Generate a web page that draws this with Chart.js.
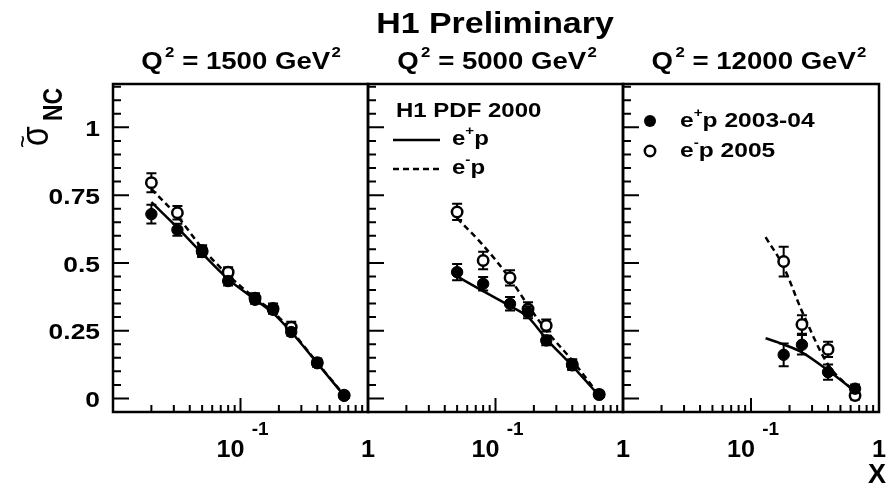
<!DOCTYPE html>
<html><head><meta charset="utf-8">
<script src="https://cdn.jsdelivr.net/npm/chart.js@4.4.1/dist/chart.umd.min.js"></script>
<style>
html,body{margin:0;padding:0;background:#fff;}
#wrap{position:relative;width:888px;height:490px;background:#fff;overflow:hidden;}
canvas{position:absolute;left:0;top:0;}
</style></head><body>
<div id="wrap">
<canvas id="c1" width="888" height="490"></canvas>
<canvas id="c2" width="888" height="490"></canvas>
<canvas id="c3" width="888" height="490"></canvas>
</div>
<script>
// ---------- data ----------
const X_TICK_VALUES = [0.1, 1];
const X_TICK_BASE = ['10', '1'];
const X_TICK_EXP = ['-1', ''];
const Y_TICK_VALUES = [0, 0.25, 0.5, 0.75, 1];
const Y_TICK_LABELS = ['0', '0.25', '0.5', '0.75', '1'];
const Q2_VALUES = ['1500', '5000', '12000'];

// Q2 = 1500
const x1500 = [0.02, 0.032, 0.05, 0.08, 0.13, 0.18, 0.25, 0.40, 0.65];
const epData1500 = [0.68, 0.622, 0.54, 0.433, 0.364, 0.327, 0.245, 0.13, 0.01];
const epErr1500 = [0.035, 0.022, 0.018, 0.016, 0.015, 0.015, 0.014, 0.012, 0.008];
const emData1500 = [0.796, 0.685, 0.545, 0.466, 0.37, 0.332, 0.263, 0.132, 0.012];
const emErr1500 = [0.035, 0.025, 0.02, 0.018, 0.018, 0.018, 0.02, 0.015, 0.01];
const xFit1500 = [0.02, 0.032, 0.05, 0.08, 0.13, 0.18, 0.25, 0.40, 0.65];
const epFit1500 = [0.724, 0.63, 0.535, 0.44, 0.365, 0.315, 0.245, 0.13, 0.01];
const emFit1500 = [0.773, 0.672, 0.555, 0.455, 0.37, 0.32, 0.25, 0.132, 0.012];

// Q2 = 5000
const x5000 = [0.05, 0.08, 0.13, 0.18, 0.25, 0.40, 0.65];
const epData5000 = [0.466, 0.423, 0.349, 0.318, 0.214, 0.122, 0.014];
const epErr5000 = [0.03, 0.025, 0.025, 0.022, 0.018, 0.014, 0.008];
const emData5000 = [0.688, 0.509, 0.445, 0.33, 0.269, 0.125, 0.015];
const emErr5000 = [0.03, 0.032, 0.028, 0.025, 0.022, 0.02, 0.012];
const xFit5000 = [0.05, 0.08, 0.13, 0.18, 0.25, 0.40, 0.65];
const epFit5000 = [0.45, 0.396, 0.341, 0.3, 0.22, 0.12, 0.01];
const emFit5000 = [0.665, 0.565, 0.442, 0.343, 0.251, 0.14, 0.012];

// Q2 = 12000
const x12000 = [0.18, 0.25, 0.40, 0.65];
const epData12000 = [0.161, 0.198, 0.097, 0.036];
const epErr12000 = [0.042, 0.036, 0.028, 0.015];
const emData12000 = [0.505, 0.273, 0.181, 0.011];
const emErr12000 = [0.055, 0.034, 0.028, 0.015];
const xFit12000 = [0.13, 0.18, 0.25, 0.40, 0.65];
const epFit12000 = [0.222, 0.199, 0.17, 0.103, 0.027];
const emFit12000 = [0.595, 0.485, 0.322, 0.125, 0.023];

// ---------- drawing helpers ----------
const FONT = "'Liberation Sans', Arial, Helvetica, sans-serif";
function f(size, bold) { return (bold ? 'bold ' : '') + size + 'px ' + FONT; }

function drawParts(ctx, parts, x, y, align, sx) {
  ctx.save();
  ctx.textAlign = 'left'; ctx.textBaseline = 'alphabetic'; ctx.fillStyle = '#000';
  let total = 0; const ws = [];
  parts.forEach(p => { ctx.font = p.font; const w = ctx.measureText(p.t).width; ws.push(w); total += w + (p.pre || 0); });
  ctx.translate(x, y); ctx.scale(sx, 1);
  let cx = align === 'center' ? -total / 2 : (align === 'right' ? -total : 0);
  parts.forEach((p, i) => { cx += (p.pre || 0); ctx.font = p.font; ctx.fillText(p.t, cx, p.dy || 0); cx += ws[i]; });
  ctx.restore();
}
function drawRot(ctx, text, font, x, y, stretch) {
  ctx.save(); ctx.translate(x, y); ctx.scale(stretch, 1); ctx.rotate(-Math.PI / 2);
  ctx.font = font; ctx.textAlign = 'left'; ctx.textBaseline = 'alphabetic'; ctx.fillStyle = '#000';
  ctx.fillText(text, 0, 0); ctx.restore();
}
function zip(xs, ys) { return xs.map((x, i) => ({ x: x, y: ys[i] })); }

const panelPlugin = {
  id: 'h1panel',
  beforeDatasetDraw(chart, args) {
    const ds = chart.data.datasets[args.index];
    if (!ds.errors) return;
    const ctx = chart.ctx, ys = chart.scales.y;
    ctx.save(); ctx.strokeStyle = '#000'; ctx.lineWidth = 2;
    args.meta.data.forEach((pt, i) => {
      const v = ds.data[i].y, e = ds.errors[i];
      const top = ys.getPixelForValue(v + e), bot = ys.getPixelForValue(v - e), x = pt.x;
      ctx.beginPath();
      ctx.moveTo(x, top); ctx.lineTo(x, bot);
      ctx.moveTo(x - 5, top); ctx.lineTo(x + 5, top);
      ctx.moveTo(x - 5, bot); ctx.lineTo(x + 5, bot);
      ctx.stroke();
    });
    ctx.restore();
  },
  afterDraw(chart) {
    const o = chart.options.plugins.h1panel;
    const ctx = chart.ctx, a = chart.chartArea, xs = chart.scales.x, ys = chart.scales.y;
    ctx.save();
    ctx.strokeStyle = '#000'; ctx.fillStyle = '#000';
    // frame
    ctx.lineWidth = 2.5;
    ctx.strokeRect(a.left, a.top, a.right - a.left, a.bottom - a.top);
    // y ticks (inward, left side)
    ctx.lineWidth = 2;
    ctx.beginPath();
    for (let k = -1; k <= 23; k++) {
      const v = k * 0.05, p = ys.getPixelForValue(v);
      if (p <= a.top + 1 || p >= a.bottom - 1) continue;
      const len = (k % 5 === 0) ? 16 : 8;
      ctx.moveTo(a.left, p); ctx.lineTo(a.left + len, p);
    }
    // x ticks (inward, bottom)
    [0.01, 0.1].forEach(d => {
      for (let m = 1; m <= 9; m++) {
        const v = m * d, p = xs.getPixelForValue(v);
        if (p <= a.left + 1 || p >= a.right - 1) continue;
        const len = m === 1 ? 14 : 7;
        ctx.moveTo(p, a.bottom); ctx.lineTo(p, a.bottom - len);
      }
    });
    ctx.stroke();
    // x tick labels
    X_TICK_VALUES.forEach((v, i) => {
      const p = xs.getPixelForValue(v);
      const parts = [{ t: X_TICK_BASE[i], font: f(24, true) }];
      if (X_TICK_EXP[i]) parts.push({ t: X_TICK_EXP[i], font: f(18, true), dy: -22, pre: 7 });
      drawParts(ctx, parts, p + (X_TICK_EXP[i] ? 2 : 0), 457, 'center', 1.05);
    });
    // y tick labels
    if (o.showY) {
      Y_TICK_VALUES.forEach((v, i) => {
        drawParts(ctx, [{ t: Y_TICK_LABELS[i], font: f(22, true) }], 100, ys.getPixelForValue(v) + 8.6, 'right', 1.2);
      });
    }
    // panel title
    drawParts(ctx, [
      { t: 'Q', font: f(23, true) },
      { t: '2', font: f(14, true), dy: -12, pre: 2 },
      { t: ' = ' + o.q2 + ' GeV', font: f(23, true) },
      { t: '2', font: f(14, true), dy: -12, pre: 1 }
    ], o.titleX, 69, 'center', 1.2);
    // legends
    if (o.legend === 'fit') {
      drawParts(ctx, [{ t: 'H1 PDF 2000', font: f(20.5, true) }], 396, 117, 'left', 1.17);
      ctx.lineWidth = 2.5;
      ctx.beginPath(); ctx.moveTo(393, 140); ctx.lineTo(440, 140); ctx.stroke();
      ctx.setLineDash([6, 4]);
      ctx.beginPath(); ctx.moveTo(393, 169); ctx.lineTo(440, 169); ctx.stroke();
      ctx.setLineDash([]);
      drawParts(ctx, [{ t: 'e', font: f(20.5, true) }, { t: '+', font: f(13, true), dy: -10 }, { t: 'p', font: f(20.5, true) }], 452, 145, 'left', 1.17);
      drawParts(ctx, [{ t: 'e', font: f(20.5, true) }, { t: '-', font: f(13, true), dy: -10 }, { t: 'p', font: f(20.5, true) }], 452, 174, 'left', 1.17);
    }
    if (o.legend === 'data') {
      ctx.beginPath(); ctx.arc(650, 121, 6, 0, Math.PI * 2); ctx.fill();
      ctx.lineWidth = 2.5; ctx.fillStyle = '#fff';
      ctx.beginPath(); ctx.arc(650, 151, 5.2, 0, Math.PI * 2); ctx.fill(); ctx.stroke();
      ctx.fillStyle = '#000';
      drawParts(ctx, [{ t: 'e', font: f(21, true) }, { t: '+', font: f(13, true), dy: -10 }, { t: 'p 2003-04', font: f(21, true) }], 680, 127, 'left', 1.17);
      drawParts(ctx, [{ t: 'e', font: f(21, true) }, { t: '-', font: f(13, true), dy: -10 }, { t: 'p 2005', font: f(21, true) }], 680, 157, 'left', 1.17);
    }
    // global texts
    if (o.global) {
      drawParts(ctx, [{ t: 'H1 Preliminary', font: f(29, true) }], 495, 33, 'center', 1.17);
      drawParts(ctx, [{ t: 'X', font: f(27, true) }], 886, 483, 'right', 1.0);
      drawRot(ctx, 'σ', f(32, false), 48, 146, 1.2);
      drawRot(ctx, '~', f(22, false), 31, 148, 1.2);
      drawRot(ctx, 'NC', f(23, true), 62, 121, 1.2);
    }
    ctx.restore();
  }
};

function makePanel(id, q2, xd, ep, epE, em, emE, xf, epF, emF, left, right, extra) {
  return new Chart(document.getElementById(id), {
    type: 'scatter',
    data: {
      datasets: [
        { label: 'H1 PDF 2000 e+p', data: zip(xf, epF), showLine: true, borderColor: '#000', borderWidth: 2.5, pointRadius: 0, fill: false, cubicInterpolationMode: 'monotone', order: 3 },
        { label: 'H1 PDF 2000 e-p', data: zip(xf, emF), showLine: true, borderColor: '#000', borderWidth: 2.5, borderDash: [6, 4], pointRadius: 0, fill: false, cubicInterpolationMode: 'monotone', order: 4 },
        { label: 'e-p 2005', data: zip(xd, em), errors: emE, showLine: false, pointRadius: 5.2, pointBackgroundColor: '#fff', pointBorderColor: '#000', pointBorderWidth: 2.5, order: 2 },
        { label: 'e+p 2003-04', data: zip(xd, ep), errors: epE, showLine: false, pointRadius: 5.7, pointBackgroundColor: '#000', pointBorderColor: '#000', pointBorderWidth: 1, order: 1 }
      ]
    },
    options: {
      responsive: false, animation: false, events: [],
      layout: { padding: { left: left, right: 888 - right, top: 84, bottom: 490 - 412 } },
      scales: {
        x: { type: 'logarithmic', min: 0.01, max: 1, display: false },
        y: { type: 'linear', min: -0.05, max: 1.16, display: false }
      },
      plugins: {
        legend: { display: false }, tooltip: { enabled: false },
        h1panel: Object.assign({ q2: q2 }, extra)
      }
    },
    plugins: [panelPlugin]
  });
}

makePanel('c1', Q2_VALUES[0], x1500, epData1500, epErr1500, emData1500, emErr1500, xFit1500, epFit1500, emFit1500, 113, 368,
  { showY: true, titleX: 241, legend: null, global: true });
makePanel('c2', Q2_VALUES[1], x5000, epData5000, epErr5000, emData5000, emErr5000, xFit5000, epFit5000, emFit5000, 368, 623,
  { showY: false, titleX: 497, legend: 'fit', global: false });
makePanel('c3', Q2_VALUES[2], x12000, epData12000, epErr12000, emData12000, emErr12000, xFit12000, epFit12000, emFit12000, 623, 879,
  { showY: false, titleX: 759, legend: 'data', global: false });
</script>
</body></html>
